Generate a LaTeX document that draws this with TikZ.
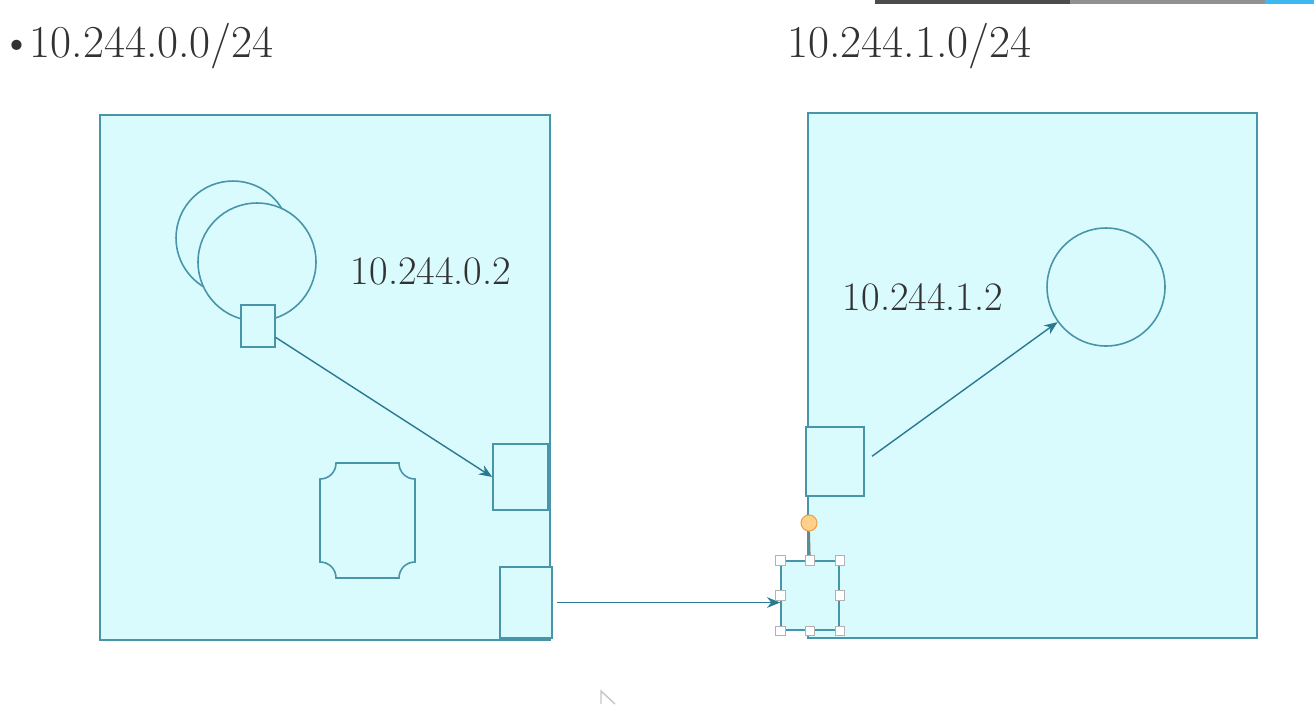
\documentclass[tikz,border=0pt]{standalone}
\usepackage{tikz}
\usetikzlibrary{arrows.meta,calc,positioning}
\definecolor{podfill}{RGB}{217,251,254}
\definecolor{podline}{RGB}{72,148,168}
\definecolor{linkc}{RGB}{42,120,146}
\definecolor{txt}{RGB}{50,50,50}
\definecolor{knob}{RGB}{255,208,140}
\definecolor{knobline}{RGB}{238,160,70}
\definecolor{stem}{RGB}{150,120,80}
\definecolor{barblue}{RGB}{61,184,240}
\tikzset{
  hostbox/.style={draw=podline,fill=podfill,line width=0.8pt,minimum width=90mm,minimum height=105mm,inner sep=0pt},
  port/.style={draw=podline,fill=podfill,line width=0.9pt,inner sep=0pt},
  pod/.style={draw=podline,fill=podfill,line width=0.9pt,circle,inner sep=0pt},
  handle/.style={draw=gray!60,fill=white,line width=0.4pt,minimum size=1.9mm,inner sep=0pt},
  link/.style={->,line width=0.8pt,linkc},
  iptext/.style={text=txt,font=\fontsize{26}{30}\selectfont,inner sep=0pt}
}
\begin{document}
\begin{tikzpicture}[x=0.02cm,y=-0.02cm,>={Stealth[length=7.5pt,width=6pt]}]
  \useasboundingbox[fill=white] (0,0) rectangle (1314,704);
  \fill[black!70] (875,0) rectangle (1070,4);
  \fill[black!43] (1070,0) rectangle (1265,4);
  \fill[barblue] (1265,0) rectangle (1314,4);
  \node[iptext,anchor=base west] (netL) at (0,57) {\textbullet\hspace{-2pt}10.244.0.0/24};
  \node[iptext,anchor=base west] (netR) at (787,57) {10.244.1.0/24};
  \node[hostbox] (hostL) at (325,377.5) {};
  \node[hostbox,minimum width=89.8mm] (hostR) at (1032.5,375.5) {};
  \node[pod,minimum size=22.8mm] (podA) at (233,238) {};
  \node[pod,minimum size=23.6mm] (podB) at (257,262) {};
  \node[port,minimum width=6.8mm,minimum height=8.4mm] (vethA) at (258,326) {};
  \node[port,minimum width=11mm,minimum height=13.2mm] (cniL) at (520.5,477) {};
  \node[port,minimum width=10.4mm,minimum height=14.2mm] (ethL) at (526,602.5) {};
  \node[port,minimum width=11.6mm,minimum height=13.8mm] (cniR) at (835,461.5) {};
  \node[port,minimum width=11.6mm,minimum height=13.8mm] (ethR) at (810,595.5) {};
  \node[pod,minimum size=23.6mm] (podR) at (1106,287) {};
  \draw[podline,fill=podfill,line width=0.9pt] (336,463) -- (399,463) .. controls (399,472) and (406,479) .. (415,479) -- (415,562) .. controls (406,562) and (399,569) .. (399,578) -- (336,578) .. controls (336,569) and (329,562) .. (320,562) -- (320,479) .. controls (329,479) and (336,472) .. (336,463) -- cycle;
  \node[iptext,font=\fontsize{23}{27}\selectfont] (ipL) at (431,271) {10.244.0.2};
  \node[iptext,font=\fontsize{23}{27}\selectfont] (ipR) at (923,297) {10.244.1.2};
  \draw[link] (vethA) -- (cniL.west);
  \draw[link,shorten <=0.8mm] (ethL.east) -- (ethL.east -| ethR.west);
  \draw[link,shorten <=1.8mm] (cniR.east) -- (podR);
  \node[circle,draw=knobline,fill=knob,line width=0.6pt,minimum size=3.2mm,inner sep=0pt] (rot) at (809,523) {};
  \draw[stem,line width=0.8pt] (rot) -- (ethR.north);
  \foreach \a in {north west,north,north east,east,south east,south,south west,west}
    \node[handle] at (ethR.\a) {};
  \draw[gray!45,line width=0.8pt] (601,704) -- (601,691) -- (615,704);
\end{tikzpicture}
\end{document}
